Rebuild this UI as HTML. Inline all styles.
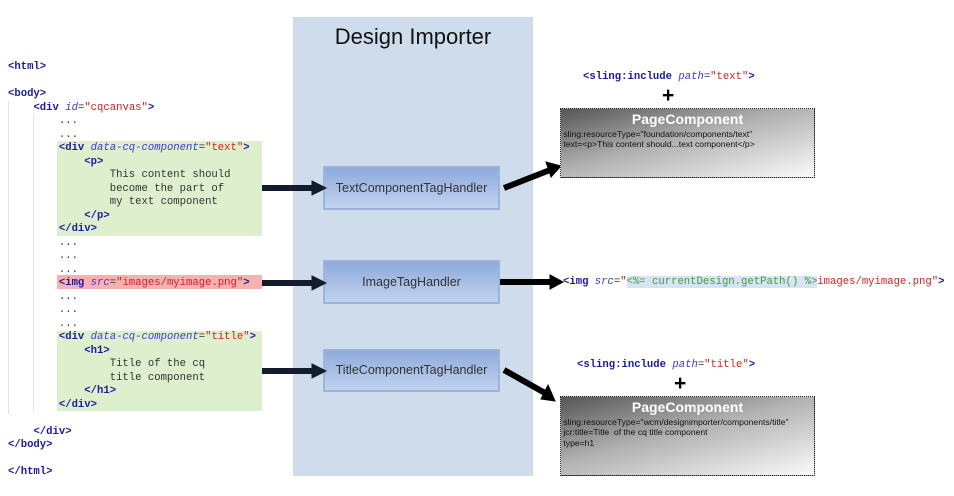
<!DOCTYPE html>
<html><head><meta charset="utf-8"><style>
body{margin:0;width:954px;height:496px;background:#fff;position:relative;overflow:hidden;font-family:"Liberation Sans",sans-serif}
.a{position:absolute;white-space:pre}
.c{font-family:"Liberation Mono",monospace;font-size:10.6px;line-height:13.5px;color:#333}
.t{color:#1a1aa6;font-weight:bold}
.an{color:#3b3bd6;font-style:italic}
.v{color:#d62020}
.box{position:absolute;left:323px;width:177px;border:2px solid #9cb4db;background:linear-gradient(#8eabdc,#c1d2ee);font-size:12.5px;color:#333;text-align:center;box-sizing:border-box}
.pc{position:absolute;left:560px;width:255px;border:1px dotted #222;background:linear-gradient(165deg,#555 0%,#b0b0b0 45%,#fafafa 100%);box-sizing:border-box;font-size:8.6px;color:#111;line-height:10.5px}
.pc h{display:block;text-align:center;color:#fff;font-size:14px;font-weight:bold;margin:5px 0 4px}
</style></head><body>
<div class="a" style="left:293px;top:17px;width:240px;height:459px;background:#cfdcec"></div>
<div class="a" style="left:293px;top:24px;width:240px;text-align:center;font-size:22px;color:#111">Design Importer</div>
<div class="a" style="left:57px;top:141px;width:205px;height:95px;background:#ddefcc"></div>
<div class="a" style="left:57px;top:275px;width:205px;height:14px;background:#f8b0b0"></div>
<div class="a" style="left:57px;top:331px;width:205px;height:80px;background:#ddefcc"></div>
<div class="a" style="left:8px;top:101px;width:1px;height:313px;background:#e4e4e4"></div>
<div class="a" style="left:33px;top:114px;width:1px;height:298px;background:#e4e4e4"></div>
<div class="a c" style="left:8px;top:61px"><span class="t">&lt;html&gt;</span>

<span class="t">&lt;body&gt;</span>
    <span class="t">&lt;div</span> <span class="an">id</span>=<span class="v">"cqcanvas"</span><span class="t">&gt;</span>
        ...
        ...
        <span class="t">&lt;div</span> <span class="an">data-cq-component</span>=<span class="v">"text"</span><span class="t">&gt;</span>
            <span class="t">&lt;p&gt;</span>
                This content should
                become the part of
                my text component
            <span class="t">&lt;/p&gt;</span>
        <span class="t">&lt;/div&gt;</span>
        ...
        ...
        ...
        <span class="t">&lt;img</span> <span class="an">src</span>=<span class="v">"images/myimage.png"</span><span class="t">&gt;</span>
        ...
        ...
        ...
        <span class="t">&lt;div</span> <span class="an">data-cq-component</span>=<span class="v">"title"</span><span class="t">&gt;</span>
            <span class="t">&lt;h1&gt;</span>
                Title of the cq
                title component
            <span class="t">&lt;/h1&gt;</span>
        <span class="t">&lt;/div&gt;</span>

    <span class="t">&lt;/div&gt;</span>
<span class="t">&lt;/body&gt;</span>

<span class="t">&lt;/html&gt;</span></div>
<div class="box" style="top:166px;height:44px;line-height:40px">TextComponentTagHandler</div>
<div class="box" style="top:260px;height:44px;line-height:40px">ImageTagHandler</div>
<div class="box" style="top:349px;height:43px;line-height:39px">TitleComponentTagHandler</div>
<svg class="a" style="left:0;top:0" width="954" height="496">
<g fill="#121c2c" stroke="#121c2c">
<line x1="262" y1="188" x2="314" y2="188" stroke-width="6"/><polygon points="312,181 326,188 312,195"/>
<line x1="262" y1="283" x2="314" y2="283" stroke-width="6"/><polygon points="312,276 326,283 312,290"/>
<line x1="262" y1="371" x2="314" y2="371" stroke-width="6"/><polygon points="312,364 326,371 312,378"/>
</g>
<g fill="#000" stroke="#000">
<line x1="504" y1="188" x2="550" y2="170" stroke-width="6"/><polygon points="546,162 561,166 551,177"/>
<line x1="500" y1="282" x2="552" y2="282" stroke-width="6"/><polygon points="550,275 563,282 550,289"/>
<line x1="504" y1="370" x2="545" y2="393" stroke-width="6"/><polygon points="548,385 555,401 541,399"/>
</g>
</svg>
<div class="a c" style="left:583px;top:71px"><span class="t">&lt;sling:include</span> <span class="an">path</span>=<span class="v">"text"</span><span class="t">&gt;</span></div>
<div class="a" style="left:662px;top:84px;font-size:21px;font-weight:bold;color:#000">+</div>
<div class="pc" style="top:108px;height:70px"><h>PageComponent</h>&nbsp;sling:resourceType="foundation/components/text"<br>&nbsp;text=&lt;p&gt;This content should...text component&lt;/p&gt;</div>
<div class="a c" style="left:563px;top:276px"><span class="t">&lt;img</span> <span class="an">src</span>=<span class="v">"</span><span style="background:#d8e4f4;color:#3aa03a">&lt;%= currentDesign.getPath() %&gt;</span><span class="v">images/myimage.png"</span><span class="t">&gt;</span></div>
<div class="a c" style="left:577px;top:359px"><span class="t">&lt;sling:include</span> <span class="an">path</span>=<span class="v">"title"</span><span class="t">&gt;</span></div>
<div class="a" style="left:674px;top:372px;font-size:21px;font-weight:bold;color:#000">+</div>
<div class="pc" style="top:396px;height:80px"><h>PageComponent</h>&nbsp;sling:resourceType="wcm/designimporter/components/title"<br>&nbsp;jcr:title=Title &nbsp;of the cq title component<br>&nbsp;type=h1</div>
</body></html>
